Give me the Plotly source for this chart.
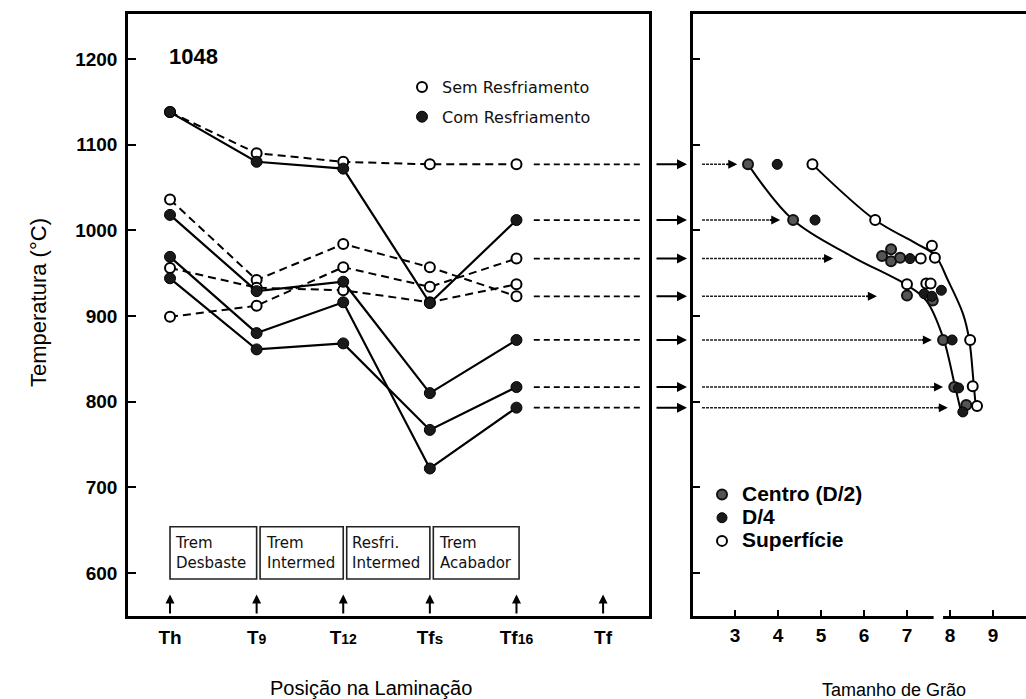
import plotly.graph_objects as go

# ---------------- data ----------------
cats = ['Th', 'T9', 'T12', 'Tfs', 'Tf16', 'Tf']
cat_labels = ['Th', 'T<span style="font-size:14px">9</span>', 'T<span style="font-size:14px">12</span>',
              'Tf<span style="font-size:15px">s</span>', 'Tf<span style="font-size:14px">16</span>', 'Tf']
measured = cats[:5]

# Sem Resfriamento (open circles, dashed)
sem_a = [1138, 1090, 1080, 1077, 1077]
sem_b = [1036, 942, 984, 957, 923]
sem_c = [956, 933, 930, 916, 937]
sem_d = [899, 912, 957, 934, 967]
# Com Resfriamento (filled circles, solid)
com_a = [1138, 1080, 1072, 915, 1012]
com_b = [1018, 929, 940, 810, 872]
com_c = [969, 880, 916, 722, 793]
com_d = [944, 861, 868, 767, 817]

# levels carried to the grain size panel (values at Tf16)
arrow_levels = [sem_a[4], com_a[4], sem_d[4], sem_b[4], com_b[4], com_d[4], com_c[4]]
arrow_tips = [3.05, 4.05, 5.28, 6.3, 7.58, 7.84, 7.95]

stages = ['Trem<br>Desbaste', 'Trem<br>Intermed', 'Resfri.<br>Intermed', 'Trem<br>Acabador']

# grain size panel
centro_x = [3.3, 4.35, 6.42, 6.63, 6.63, 6.84, 7.0, 7.6, 7.84, 8.1, 8.38]
centro_y = [1077, 1012, 970, 978, 964, 968, 924, 918, 872, 817, 796]
d4_x = [3.98, 4.86, 7.07, 7.4, 7.58, 7.8, 8.05, 8.2, 8.3]
d4_y = [1077, 1012, 967, 926, 923, 930, 872, 816, 788]
sup_x = [4.8, 6.26, 7.32, 7.58, 7.65, 7.0, 7.45, 7.55, 8.47, 8.53, 8.63]
sup_y = [1077, 1012, 967, 982, 968, 937, 938, 938, 872, 818, 795]

curve1_x = [3.3, 4.35, 5.7, 7.0, 7.45, 7.84, 8.1, 8.25]
curve1_y = [1077, 1012, 970, 936, 918, 875, 822, 790]
curve2_x = [4.8, 6.26, 7.2, 7.65, 7.95, 8.3, 8.45, 8.55, 8.6]
curve2_y = [1077, 1012, 985, 971, 942, 903, 872, 822, 795]

temp_ticks = [600, 700, 800, 900, 1000, 1100, 1200]
grain_ticks = [3, 4, 5, 6, 7, 8, 9]

# ---------------- figure ----------------
W, H = 1026, 699
TOP, BOT = 14, 616
PH = BOT - TOP


def pxx(p):
    return p / W


def pxy(p):
    return (BOT - p) / PH


fig = go.Figure()
xi = list(range(len(measured)))

for s in [sem_a, sem_b, sem_c, sem_d]:
    fig.add_trace(go.Scatter(x=xi, y=s, mode='lines+markers', showlegend=False,
                             line=dict(color='black', width=2, dash='8px,5px'),
                             marker=dict(symbol='circle', size=10, color='white',
                                         line=dict(color='black', width=2)),
                             xaxis='x', yaxis='y'))
for s in [com_a, com_b, com_c, com_d]:
    fig.add_trace(go.Scatter(x=xi, y=s, mode='lines+markers', showlegend=False,
                             line=dict(color='black', width=2.2),
                             marker=dict(symbol='circle', size=11, color='#1a1a1a',
                                         line=dict(color='black', width=1)),
                             xaxis='x', yaxis='y'))

# dashed continuation from Tf16 to the panel border
lx, ly = [], []
for lv in arrow_levels:
    lx += [4.2, 5.47, None]
    ly += [lv, lv, None]
fig.add_trace(go.Scatter(x=lx, y=ly, mode='lines', showlegend=False,
                         line=dict(color='black', width=1.8, dash='6px,4px'),
                         xaxis='x', yaxis='y', hoverinfo='skip'))

# dotted arrows inside grain size panel
rx, ry = [], []
for lv, tip in zip(arrow_levels, arrow_tips):
    rx += [2.23, tip - 0.15, None]
    ry += [lv, lv, None]
fig.add_trace(go.Scatter(x=rx, y=ry, mode='lines', showlegend=False,
                         line=dict(color='#222', width=1.5, dash='3px,1px'),
                         xaxis='x2', yaxis='y2', hoverinfo='skip'))

# grain size curves
fig.add_trace(go.Scatter(x=curve1_x, y=curve1_y, mode='lines', showlegend=False,
                         line=dict(color='black', width=2, shape='spline', smoothing=1.0),
                         xaxis='x2', yaxis='y2'))
fig.add_trace(go.Scatter(x=curve2_x, y=curve2_y, mode='lines', showlegend=False,
                         line=dict(color='black', width=2, shape='spline', smoothing=1.0),
                         xaxis='x2', yaxis='y2'))

centro_marker = dict(symbol='circle', size=10, color='#555555', line=dict(color='#111', width=2))
d4_marker = dict(symbol='circle', size=10, color='#1a1a1a', line=dict(color='black', width=1))
sup_marker = dict(symbol='circle', size=10, color='white', line=dict(color='black', width=2))

fig.add_trace(go.Scatter(x=centro_x, y=centro_y, mode='markers', showlegend=False,
                         marker=centro_marker, xaxis='x2', yaxis='y2'))
fig.add_trace(go.Scatter(x=d4_x, y=d4_y, mode='markers', showlegend=False,
                         marker=d4_marker, xaxis='x2', yaxis='y2'))
fig.add_trace(go.Scatter(x=sup_x, y=sup_y, mode='markers', showlegend=False,
                         marker=sup_marker, xaxis='x2', yaxis='y2'))

# legend entries
fig.add_trace(go.Scatter(x=[None], y=[None], mode='markers', name='Sem Resfriamento',
                         legend='legend', legendgroup='a',
                         marker=dict(symbol='circle', size=10, color='white', line=dict(color='black', width=2)),
                         xaxis='x', yaxis='y'))
fig.add_trace(go.Scatter(x=[None], y=[None], mode='markers', name='Com Resfriamento',
                         legend='legend', legendgroup='b',
                         marker=dict(symbol='circle', size=11, color='#1a1a1a', line=dict(color='black', width=1)),
                         xaxis='x', yaxis='y'))
big = '<span style="font-size:21px">{}</span>'
fig.add_trace(go.Scatter(x=[None], y=[None], mode='markers', name=big.format('Centro (D/2)'),
                         legend='legend2', marker=centro_marker, xaxis='x2', yaxis='y2'))
fig.add_trace(go.Scatter(x=[None], y=[None], mode='markers', name=big.format('D/4'),
                         legend='legend2', marker=d4_marker, xaxis='x2', yaxis='y2'))
fig.add_trace(go.Scatter(x=[None], y=[None], mode='markers', name=big.format('Superfície'),
                         legend='legend2', marker=sup_marker, xaxis='x2', yaxis='y2'))

TRANGE = [549.8, 1252.5]
tickfont = dict(family='Liberation Sans, Arial', size=19, color='black', weight='bold')

annotations = []
shapes = []

# stage boxes
for i, st in enumerate(stages):
    x0 = i + (0.0 if i == 0 else 0.04)
    x1 = i + 1 + (0.03 if i == 3 else 0.0)
    shapes.append(dict(type='rect', xref='x', yref='y', x0=x0, x1=x1, y0=593, y1=654,
                       line=dict(color='#222', width=1.6)))
    annotations.append(dict(xref='x', yref='y', x=x0 + 0.04, y=623, text=st, showarrow=False,
                            xanchor='left', yanchor='middle', align='left',
                            font=dict(family='DejaVu Sans', size=15, color='#111')))

# small upward arrows at each position
for i in range(len(cats)):
    annotations.append(dict(xref='x', yref='y', x=i, y=575, axref='x', ayref='y', ax=i, ay=551,
                            text='', showarrow=True, arrowhead=2, arrowsize=0.9, arrowwidth=2,
                            arrowcolor='black'))

# arrows between panels
for lv in arrow_levels:
    annotations.append(dict(xref='paper', yref='y', x=pxx(687), y=lv, axref='pixel', ayref='pixel',
                            ax=-32, ay=0, text='', showarrow=True, arrowhead=2, arrowsize=1,
                            arrowwidth=2, arrowcolor='black'))
# arrow heads in grain size panel
for lv, tip in zip(arrow_levels, arrow_tips):
    annotations.append(dict(xref='x2', yref='y2', x=tip, y=lv, axref='pixel', ayref='pixel',
                            ax=-12, ay=0, text='', showarrow=True, arrowhead=2, arrowsize=1,
                            arrowwidth=1.8, arrowcolor='black'))

annotations += [
    dict(xref='paper', yref='paper', x=pxx(167), y=pxy(57), text='<b>1048</b>', showarrow=False,
         xanchor='left', yanchor='middle', font=dict(family='Liberation Sans, Arial', size=22, color='black')),
    dict(xref='paper', yref='paper', x=pxx(38), y=pxy(303), text='Temperatura (°C)', showarrow=False,
         textangle=-90, xanchor='center', yanchor='middle',
         font=dict(family='Liberation Sans, Arial', size=22, color='black')),
    dict(xref='paper', yref='paper', x=pxx(371), y=pxy(688), text='Posição na Laminação', showarrow=False,
         xanchor='center', yanchor='middle', font=dict(family='Liberation Sans, Arial', size=20, color='black')),
    dict(xref='paper', yref='paper', x=pxx(894), y=pxy(690), text='Tamanho de Grão', showarrow=False,
         xanchor='center', yanchor='middle', font=dict(family='Liberation Sans, Arial', size=18, color='black')),
]

# axis break on grain size axis
shapes.append(dict(type='line', xref='x2', yref='y2 domain', x0=7.62, x1=7.84, y0=0, y1=0,
                   line=dict(color='white', width=6), layer='above'))

fig.update_layout(
    width=W, height=H,
    margin=dict(l=0, r=0, t=TOP, b=H - BOT),
    paper_bgcolor='white', plot_bgcolor='white',
    xaxis=dict(domain=[pxx(128), pxx(649)], range=[-0.485, 5.53], tickvals=list(range(len(cats))),
               ticktext=cat_labels, ticks='', showline=True, mirror=True, linewidth=2.5,
               linecolor='black', showgrid=False, zeroline=False, tickfont=tickfont,
               ticklabelstandoff=2, anchor='y'),
    yaxis=dict(domain=[0, 1], range=TRANGE, tickvals=temp_ticks, ticks='inside', ticklen=8,
               tickwidth=1.5, tickcolor='black', showline=True, mirror=True, linewidth=2.5,
               linecolor='black', showgrid=False, zeroline=False, tickfont=tickfont,
               ticklabelstandoff=4, anchor='x'),
    xaxis2=dict(domain=[pxx(693), 1], range=[2.02, 9.77], tickvals=grain_ticks, ticks='inside',
                ticklen=6, tickwidth=1.5, tickcolor='black', showline=True, mirror=True,
                linewidth=2.5, linecolor='black', showgrid=False, zeroline=False,
                tickfont=tickfont, anchor='y2'),
    yaxis2=dict(domain=[0, 1], range=TRANGE, tickvals=temp_ticks, ticks='inside', ticklen=7,
                tickwidth=1.5, tickcolor='black', showticklabels=False, showline=True,
                linewidth=2.5, linecolor='black', showgrid=False, zeroline=False, anchor='x2'),
    legend=dict(x=pxx(402), y=pxy(70), xanchor='left', yanchor='top', bgcolor='rgba(0,0,0,0)',
                font=dict(family='DejaVu Sans', size=16, color='#111'), traceorder='grouped',
                tracegroupgap=6),
    legend2=dict(x=pxx(702), y=pxy(478), xanchor='left', yanchor='top', bgcolor='rgba(0,0,0,0)',
                 font=dict(family='Liberation Sans, Arial', size=15.5, color='black', weight='bold')),
    annotations=annotations,
    shapes=shapes,
    showlegend=True,
)

fig.write_html('out.html')
